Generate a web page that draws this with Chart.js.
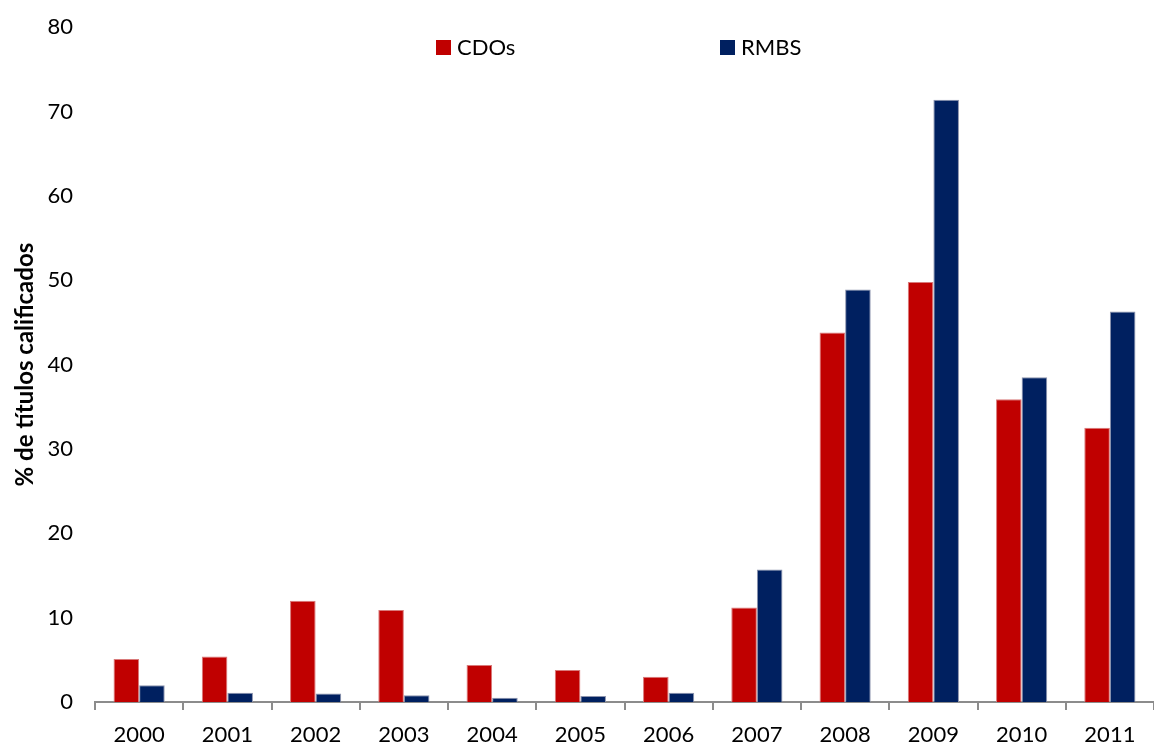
<!DOCTYPE html>
<html>
<head>
<meta charset="utf-8">
<script src="https://cdn.jsdelivr.net/npm/chart.js@4"></script>
<style>
  html, body { margin: 0; padding: 0; background: #fff; }
  #wrap { width: 1154px; height: 747px; }
</style>
</head>
<body>
<div id="wrap"><canvas id="grafico"></canvas></div>
<script>
const anos = ['2000', '2001', '2002', '2003', '2004', '2005', '2006', '2007', '2008', '2009', '2010', '2011'];
const cdos = [5.1, 5.4, 12.0, 10.9, 4.4, 3.8, 3.0, 11.2, 43.8, 49.8, 35.9, 32.5];
const rmbs = [2.0, 1.1, 1.0, 0.8, 0.5, 0.7, 1.1, 15.7, 48.9, 71.4, 38.5, 46.3];
const ejeY = { min: 0, max: 80, paso: 10 };

const fuente = 'Lato, "Open Sans", sans-serif';

// leyenda dibujada a mano, dentro del área del gráfico
const leyenda = {
    id: 'leyenda',
    afterDraw(chart) {
        const c = chart.ctx;
        const posiciones = [436, 720];
        c.save();
        c.font = '22px ' + fuente;
        c.textBaseline = 'middle';
        chart.data.datasets.forEach((ds, i) => {
            const x = posiciones[i];
            c.fillStyle = ds.backgroundColor;
            c.fillRect(x, 40, 15, 15);
            c.fillStyle = '#000';
            c.fillText(ds.label, x + 21, 48);
        });
        c.restore();
    }
};

const ctx = document.getElementById('grafico').getContext('2d');

new Chart(ctx, {
    type: 'bar',
    data: {
        labels: anos,
        datasets: [{
            label: 'CDOs',
            data: cdos,
            backgroundColor: '#C00000',
            borderColor: '#d97a7a',
            borderWidth: 1,
            categoryPercentage: 0.58,
            barPercentage: 1
        }, {
            label: 'RMBS',
            data: rmbs,
            backgroundColor: '#002060',
            borderColor: '#8c93ad',
            borderWidth: 1,
            categoryPercentage: 0.58,
            barPercentage: 1
        }]
    },
    options: {
        responsive: true,
        maintainAspectRatio: false,
        animation: false,
        layout: { padding: { top: 21, right: 0, left: 0, bottom: 0 } },
        plugins: {
            legend: { display: false },
            tooltip: { enabled: false }
        },
        scales: {
            x: {
                grid: {
                    offset: true,
                    drawOnChartArea: false,
                    drawTicks: true,
                    tickLength: 8,
                    color: '#8c8c8c',
                    lineWidth: 2
                },
                border: { display: true, color: '#8c8c8c', width: 2 },
                ticks: {
                    color: '#000',
                    font: { family: fuente, size: 22 },
                    padding: 12,
                    maxRotation: 0
                },
                afterFit(scale) { scale.height = 45; }
            },
            y: {
                min: ejeY.min,
                max: ejeY.max,
                ticks: {
                    stepSize: ejeY.paso,
                    color: '#000',
                    font: { family: fuente, size: 22 },
                    padding: 14
                },
                grid: { display: false },
                border: { display: false },
                title: {
                    display: true,
                    text: '% de títulos calificados',
                    color: '#000',
                    font: { family: fuente, size: 24, weight: 'bold' },
                    padding: { top: 11, bottom: 0 }
                },
                afterFit(scale) { scale.width = 95; }
            }
        }
    },
    plugins: [leyenda]
});
</script>
</body>
</html>
